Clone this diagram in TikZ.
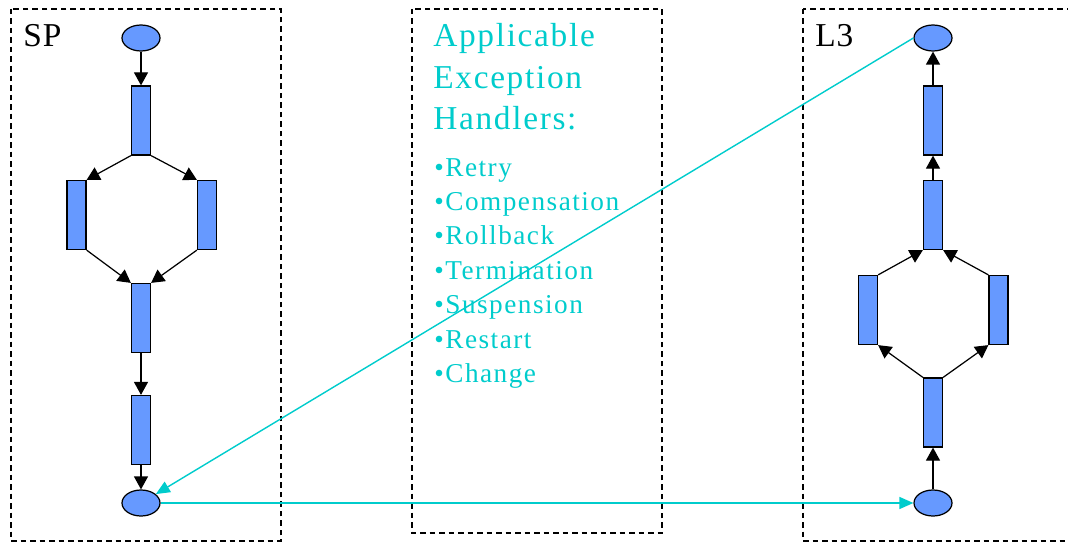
\documentclass[tikz,border=0pt]{standalone}
\usepackage{fontspec}
\setmainfont{Liberation Serif}
\usetikzlibrary{arrows.meta,shapes.geometric}
\definecolor{handlercyan}{RGB}{0,204,204}
\definecolor{taskblue}{RGB}{102,153,255}
\tikzset{
    place/.style={ellipse,draw,line width=0.7pt,fill=taskblue,minimum width=7.6mm,minimum height=5.2mm,inner sep=0pt},
    task/.style={rectangle,draw,line width=0.7pt,fill=taskblue,minimum width=3.8mm,minimum height=13.8mm,inner sep=0pt},
    framebox/.style={draw,line width=0.9pt,dash pattern=on 1.1mm off 0.8mm},
    framename/.style={anchor=base west,inner sep=0pt,font=\fontsize{19}{23}\selectfont\addfontfeature{LetterSpace=3}},
    heading/.style={anchor=base west,inner sep=0pt,text=handlercyan,font=\fontsize{19}{23}\selectfont\addfontfeature{LetterSpace=5}},
    handler/.style={anchor=base west,inner sep=0pt,text=handlercyan,font=\fontsize{15.5}{19}\selectfont\addfontfeature{LetterSpace=5.5}},
    flow/.style={-{Triangle[length=2.6mm,width=2.8mm]},line width=0.7pt},
    jump/.style={-{Triangle[length=2.8mm,width=2.4mm]},draw=handlercyan,fill=handlercyan,line width=0.8pt}
}
\begin{document}
\begin{tikzpicture}[x=0.2mm,y=-0.2mm]
    \useasboundingbox (0,0) rectangle (1068,542);
    % frames
    \draw[framebox] (11,9) rectangle (281,541);
    \draw[framebox] (412,9) rectangle (662,533);
    \draw[framebox] (803,9) rectangle (1085,541);

    \node[framename] (spname) at (23,47) {SP};
    \node[framename] (lthreename) at (815,47) {L3};

    % SP process
    \node[place] (spstart) at (141,38) {};
    \node[task] (spa) at (141,120.5) {};
    \node[task] (spb) at (76.5,215) {};
    \node[task] (spc) at (207,215) {};
    \node[task] (spd) at (141,318) {};
    \node[task] (spe) at (141,430) {};
    \node[place] (spend) at (141,503) {};

    \draw[flow] (spstart) -- (spa);
    \draw[flow] (spa.south west) -- (spb.north east);
    \draw[flow] (spa.south east) -- (spc.north west);
    \draw[flow] (spb.south east) -- (spd.north west);
    \draw[flow] (spc.south west) -- (spd.north east);
    \draw[flow] (spd) -- (spe);
    \draw[flow] (spe) -- (spend);

    % L3 process
    \node[place] (lstart) at (933,38) {};
    \node[task] (la) at (933,120.5) {};
    \node[task] (lb) at (933,215) {};
    \node[task] (lc) at (868,310) {};
    \node[task] (ld) at (998.5,310) {};
    \node[task] (le) at (933,412.5) {};
    \node[place] (lend) at (933,503) {};

    \draw[flow] (lend) -- (le);
    \draw[flow] (le.north west) -- (lc.south east);
    \draw[flow] (le.north east) -- (ld.south west);
    \draw[flow] (lc.north east) -- (lb.south west);
    \draw[flow] (ld.north west) -- (lb.south east);
    \draw[flow] (lb) -- (la);
    \draw[flow] (la) -- (lstart);

    % handlers
    \foreach \hline [count=\i] in {Applicable,Exception,Handlers:}
        \node[heading] (head\i) at (433,{47+41*(\i-1)}) {\hline};
    \foreach \hname [count=\i] in {Retry,Compensation,Rollback,Termination,Suspension,Restart,Change}
        \node[handler] (hitem\i) at (434,{176+34.4*(\i-1)}) {\textbullet\hname};

    \draw[jump] (lstart.west) -- (spend);
    \draw[jump] (spend.east) -- (lend.west);
\end{tikzpicture}
\end{document}
